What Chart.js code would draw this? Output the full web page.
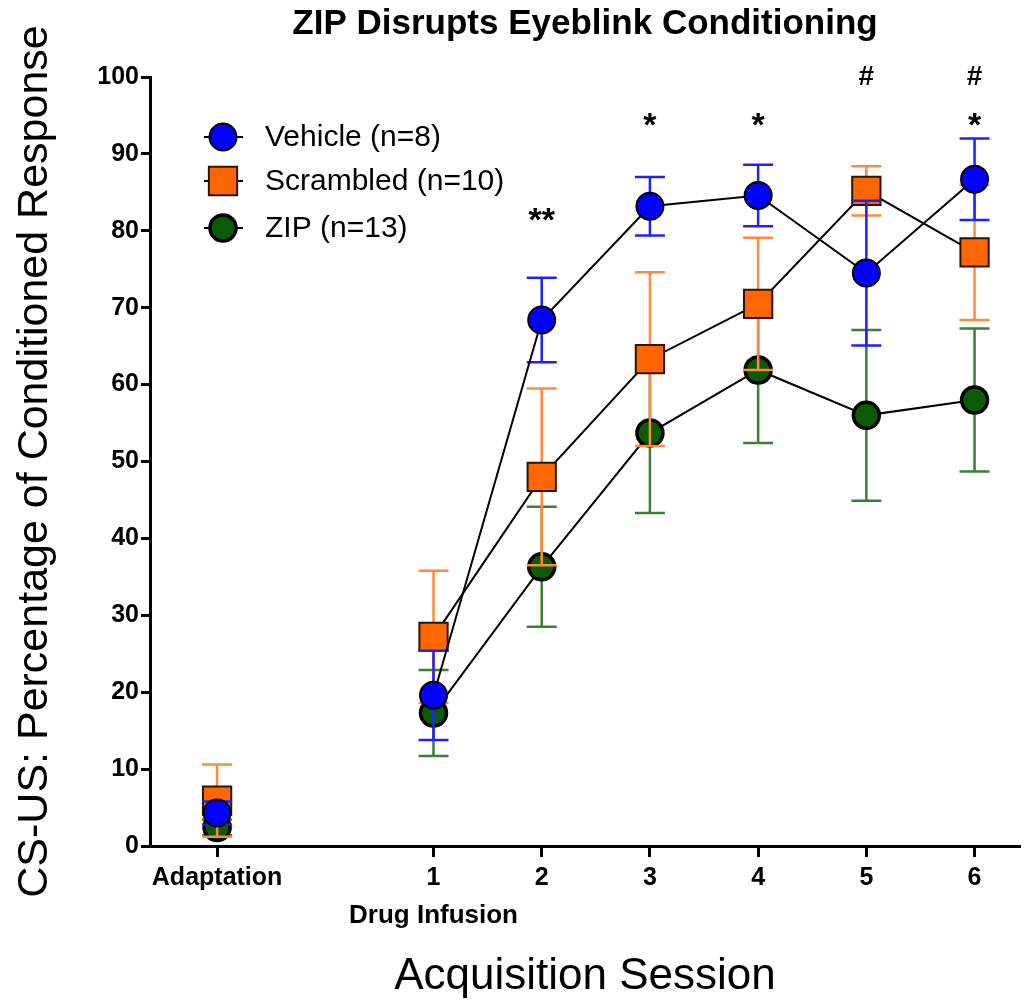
<!DOCTYPE html>
<html>
<head>
<meta charset="utf-8">
<script src="https://cdn.jsdelivr.net/npm/chart.js@4.4.0/dist/chart.umd.min.js"></script>
<style>
html, body { margin: 0; padding: 0; background: #fff; }
</style>
</head>
<body>
<canvas id="myChart" width="1024" height="1006"></canvas>
<script>
// x positions of the sessions (Adaptation sits two steps left of session 1)
var sessionX = [-1, 1, 2, 3, 4, 5, 6];
var sessionLabels = ['Adaptation', '1', '2', '3', '4', '5', '6'];

// mean % CR and SEM per session
var vehicleMean = [4.3, 19.6, 68.4, 83.2, 84.6, 74.5, 86.7];
var vehicleSem = [1.5, 5.8, 5.5, 3.8, 4.0, 9.4, 5.3];
var scrambledMean = [5.9, 27.2, 48.0, 63.3, 70.5, 85.2, 77.2];
var scrambledSem = [4.7, 8.6, 11.5, 11.3, 8.6, 3.2, 8.8];
var zipMean = [2.4, 17.3, 36.3, 53.7, 61.9, 56.0, 58.0];
var zipSem = [1.0, 5.6, 7.8, 10.4, 9.5, 11.1, 9.3];

// significance marks above the sessions
var markX = [2, 3, 4, 5, 6, 6];
var markY = [80.0, 92.3, 92.3, 99.0, 99.0, 92.3];
var markText = ['**', '*', '*', '#', '#', '*'];

var FONT = "'Liberation Sans', Arial, sans-serif";

function toPoints(mean) {
    var pts = [];
    for (var i = 0; i < sessionX.length; i++) {
        pts.push({x: sessionX[i], y: mean[i]});
        if (i == 0) pts.push({x: 0, y: null}); // no line from Adaptation to session 1
    }
    return pts;
}
function toSem(sem) {
    var out = [sem[0], null];
    return out.concat(sem.slice(1));
}

// error bars drawn right before each dataset so its own marker covers them
var errorBars = {
    id: 'errorBars',
    beforeDatasetDraw: function (chart, args) {
        var ds = chart.data.datasets[args.index];
        var xs = chart.scales.x, ys = chart.scales.y;
        var ctx = chart.ctx;
        ctx.save();
        ctx.strokeStyle = ds.errColor;
        ctx.lineWidth = 2.5;
        for (var i = 0; i < ds.data.length; i++) {
            var p = ds.data[i];
            if (p.y === null || ds.sem[i] === null) continue;
            var x = xs.getPixelForValue(p.x);
            var y1 = ys.getPixelForValue(p.y + ds.sem[i]);
            var y2 = ys.getPixelForValue(Math.max(0, p.y - ds.sem[i]));
            ctx.beginPath();
            ctx.moveTo(x, y1); ctx.lineTo(x, y2);
            ctx.moveTo(x - 15, y1); ctx.lineTo(x + 15, y1);
            if (p.y - ds.sem[i] > 0) { ctx.moveTo(x - 15, y2); ctx.lineTo(x + 15, y2); }
            ctx.stroke();
        }
        ctx.restore();
    }
};

function drawMarker(ctx, ds, x, y) {
    ctx.fillStyle = ds.pointBackgroundColor;
    ctx.strokeStyle = ds.pointBorderColor;
    ctx.lineWidth = ds.pointBorderWidth;
    ctx.beginPath();
    if (ds.pointStyle == 'rect') {
        var s = ds.pointRadius * Math.SQRT1_2;
        ctx.rect(x - s, y - s, 2 * s, 2 * s);
    } else {
        ctx.arc(x, y, ds.pointRadius, 0, Math.PI * 2);
    }
    ctx.fill();
    ctx.stroke();
}

var extras = {
    id: 'extras',
    afterDraw: function (chart) {
        var ctx = chart.ctx;
        var xs = chart.scales.x, ys = chart.scales.y;
        ctx.save();
        // legend inside the plot
        var rows = [137, 181, 228];
        chart.data.datasets.forEach(function (ds, i) {
            var y = rows[i];
            ctx.strokeStyle = '#000';
            ctx.lineWidth = 2;
            ctx.beginPath();
            ctx.moveTo(204, y); ctx.lineTo(243, y);
            ctx.stroke();
            drawMarker(ctx, ds, 223, y);
            ctx.fillStyle = '#000';
            ctx.font = '30px ' + FONT;
            ctx.textAlign = 'left';
            ctx.textBaseline = 'middle';
            ctx.fillText(ds.label, 265, y + 1);
        });
        // significance marks
        ctx.textAlign = 'center';
        ctx.textBaseline = 'alphabetic';
        for (var i = 0; i < markText.length; i++) {
            ctx.font = markText[i] == '#' ? 'bold 28px ' + FONT : 'bold 34px ' + FONT;
            ctx.fillText(markText[i], xs.getPixelForValue(markX[i]), ys.getPixelForValue(markY[i]));
        }
        // second line under session 1
        ctx.font = 'bold 26px ' + FONT;
        ctx.textBaseline = 'middle';
        ctx.fillText('Drug Infusion', xs.getPixelForValue(1), chart.chartArea.bottom + 70);
        ctx.restore();
    }
};

var lineDefaults = {
    showLine: true,
    borderColor: '#000',
    borderWidth: 2,
    pointBorderColor: '#000',
    pointHoverRadius: 0
};

new Chart(document.getElementById('myChart'), {
    type: 'scatter',
    data: {
        datasets: [
            Object.assign({}, lineDefaults, {
                label: 'Vehicle (n=8)',
                data: toPoints(vehicleMean),
                sem: toSem(vehicleSem),
                errColor: '#2020ff',
                pointStyle: 'circle',
                pointRadius: 13.5,
                pointBorderWidth: 2,
                pointBackgroundColor: '#0000ff'
            }),
            Object.assign({}, lineDefaults, {
                label: 'Scrambled (n=10)',
                data: toPoints(scrambledMean),
                sem: toSem(scrambledSem),
                errColor: '#ff8a3d',
                pointStyle: 'rect',
                pointRadius: 20,
                pointBorderWidth: 2,
                pointBorderColor: '#2a1500',
                pointBackgroundColor: '#ff6600'
            }),
            Object.assign({}, lineDefaults, {
                label: 'ZIP (n=13)',
                data: toPoints(zipMean),
                sem: toSem(zipSem),
                errColor: '#3b7f34',
                pointStyle: 'circle',
                pointRadius: 13,
                pointBorderWidth: 3.5,
                pointBackgroundColor: '#0b5a05'
            })
        ]
    },
    options: {
        responsive: false,
        animation: false,
        devicePixelRatio: 1,
        spanGaps: false,
        layout: {autoPadding: false, padding: {top: 0, left: 0, right: 4, bottom: 3}},
        plugins: {
            legend: {display: false},
            tooltip: {enabled: false},
            title: {
                display: true,
                fullSize: false,
                text: 'ZIP Disrupts Eyeblink Conditioning',
                color: '#000',
                font: {family: FONT, size: 35, weight: 'bold'},
                padding: {top: 3, bottom: 32}
            }
        },
        scales: {
            x: {
                type: 'linear',
                min: -1.62,
                max: 6.42,
                afterBuildTicks: function (scale) {
                    scale.ticks = sessionX.map(function (v) { return {value: v}; });
                },
                afterFit: function (scale) {
                    scale.height = 157;
                    scale.paddingLeft = 0;
                    scale.paddingRight = 0;
                },
                ticks: {
                    autoSkip: false,
                    maxRotation: 0,
                    padding: 6,
                    color: '#000',
                    font: {family: FONT, size: 25, weight: 'bold'},
                    callback: function (v) {
                        var i = sessionX.indexOf(v);
                        return i >= 0 ? sessionLabels[i] : '';
                    }
                },
                grid: {drawOnChartArea: false, drawTicks: true, tickLength: 11, tickColor: '#000', tickWidth: 3, color: '#000'},
                border: {display: true, color: '#000', width: 3},
                title: {
                    display: true,
                    text: 'Acquisition Session',
                    color: '#000',
                    font: {family: FONT, size: 44},
                    padding: {top: 0, bottom: 0}
                }
            },
            y: {
                min: 0,
                max: 100,
                afterFit: function (scale) { scale.width = 150; },
                ticks: {
                    stepSize: 10,
                    padding: 2,
                    color: '#000',
                    font: {family: FONT, size: 25, weight: 'bold'}
                },
                grid: {drawOnChartArea: false, drawTicks: true, tickLength: 9, tickColor: '#000', tickWidth: 3, color: '#000'},
                border: {display: true, color: '#000', width: 3},
                title: {
                    display: true,
                    text: 'CS-US: Percentage of Conditioned Response',
                    color: '#000',
                    font: {family: FONT, size: 43},
                    padding: {top: 9, bottom: 0}
                }
            }
        }
    },
    plugins: [errorBars, extras]
});
</script>
</body>
</html>
